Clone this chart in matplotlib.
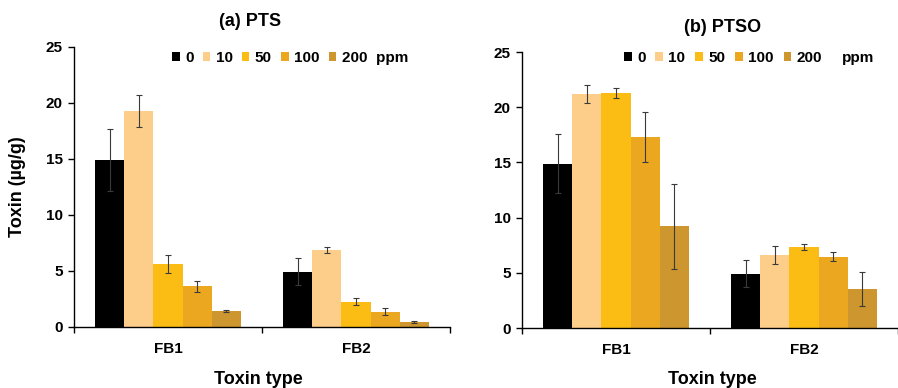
import numpy as np
import matplotlib.pyplot as plt
from matplotlib.patches import Patch

plt.rcParams['font.family'] = ['Liberation Sans', 'DejaVu Sans']
plt.rcParams['font.weight'] = 'bold'

toxins = ["FB1", "FB2"]
doses = ["0", "10", "50", "100", "200"]
colors = ["#000000", "#FDCD8A", "#FBBD14", "#EBA720", "#CD962E"]

# mean toxin (ug/g) per dose, rows = dose, cols = FB1, FB2
pts_mean = [[14.9, 4.95], [19.3, 6.9], [5.6, 2.25], [3.65, 1.37], [1.43, 0.47]]
pts_err = [[2.75, 1.2], [1.45, 0.25], [0.8, 0.33], [0.5, 0.3], [0.1, 0.08]]
ptso_mean = [[14.9, 4.92], [21.2, 6.62], [21.25, 7.38], [17.3, 6.45], [9.2, 3.53]]
ptso_err = [[2.7, 1.2], [0.85, 0.85], [0.45, 0.27], [2.3, 0.4], [3.85, 1.5]]

fig = plt.figure(figsize=(8.98, 3.88), dpi=100)
ax1 = fig.add_axes([74 / 898, 61 / 388, 376 / 898, 280 / 388])
ax2 = fig.add_axes([522 / 898, 60 / 388, 376 / 898, 276 / 388])

width = 0.155
x = np.arange(len(toxins))

def draw(ax, means, errs, xmax):
    for i in range(len(doses)):
        off = (i - 2) * width
        ax.bar(x + off, means[i], width, color=colors[i], zorder=2)
        ax.errorbar(x + off, means[i], yerr=errs[i], fmt="none", ecolor="#3a3a3a",
                    elinewidth=0.8, capsize=2, capthick=0.8, zorder=3)
    ax.set_ylim(0, 25)
    ax.set_xlim(-0.5, xmax)
    ax.set_yticks([0, 5, 10, 15, 20, 25])
    ax.set_xticks(x)
    ax.set_xticklabels(toxins)
    ax.set_xticks([-0.5, 0.5, 1.5], minor=True)
    ax.tick_params(axis="x", which="major", length=0, pad=11, labelsize=11)
    ax.tick_params(axis="x", which="minor", length=4, width=1)
    ax.tick_params(axis="y", length=4, width=1, labelsize=11, pad=4)
    for s in ["top", "right"]:
        ax.spines[s].set_visible(False)
    for s in ["left", "bottom"]:
        ax.spines[s].set_linewidth(1)

draw(ax1, pts_mean, pts_err, 1.5)
draw(ax2, ptso_mean, ptso_err, -0.5 + 376 / 191)

handles = [Patch(facecolor=c, edgecolor="none") for c in colors]
leg_kw = dict(ncol=5, frameon=False, handlelength=0.5, handleheight=0.5,
              handletextpad=0.35, borderaxespad=0, borderpad=0, fontsize=11,
              loc="center left", bbox_transform=fig.transFigure)
ax1.legend(handles, doses[:4] + ["200  ppm"], columnspacing=0.6,
           bbox_to_anchor=(172 / 898, 1 - 58 / 388), **leg_kw)
ax2.legend(handles, doses, columnspacing=0.65,
           bbox_to_anchor=(624 / 898, 1 - 58 / 388), **leg_kw)
fig.text(842 / 898, 1 - 58 / 388, "ppm", fontsize=11, ha="left", va="center")

fig.text(250 / 898, 1 - 22 / 388, "(a) PTS", fontsize=13, ha="center", va="center")
fig.text(723 / 898, 1 - 28 / 388, "(b) PTSO", fontsize=13, ha="center", va="center")
fig.text(18 / 898, 1 - 187 / 388, "Toxin (µg/g)", fontsize=13, rotation=90,
         ha="center", va="center")
fig.text(258 / 898, 1 - 379 / 388, "Toxin type", fontsize=13, ha="center", va="center")
fig.text(712 / 898, 1 - 380 / 388, "Toxin type", fontsize=13, ha="center", va="center")

fig.savefig("out.png", dpi=100)
